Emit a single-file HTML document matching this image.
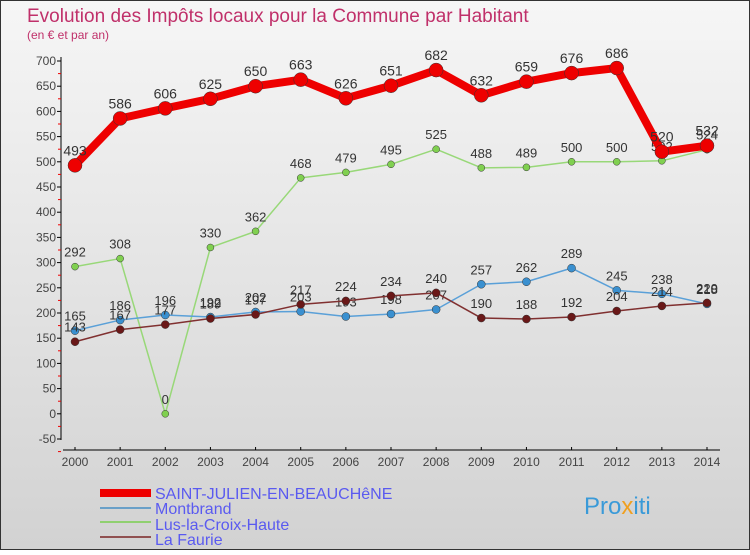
<!DOCTYPE html>
<html><head><meta charset="utf-8"><style>
body{margin:0;width:750px;height:550px;overflow:hidden;font-family:"Liberation Sans",sans-serif}
</style></head><body>
<svg id="c" width="750" height="550" xmlns="http://www.w3.org/2000/svg">
<defs><linearGradient id="bg" x1="0" y1="0" x2="0" y2="1"><stop offset="0" stop-color="#f6f6f6"/><stop offset="1" stop-color="#d2d2d2"/></linearGradient></defs>
<rect x="0.5" y="0.5" width="749" height="549" fill="url(#bg)" stroke="#333"/>
<text x="27" y="22" font-size="19" fill="#c0306a">Evolution des Impôts locaux pour la Commune par Habitant</text>
<text x="27" y="39" font-size="12" fill="#c0306a">(en € et par an)</text>
<g id="axes"></g><g id="series"></g>
<g font-size="16" fill="#5a5af0">
<rect x="100" y="489" width="51" height="8" fill="#e00"/>
<text x="155" y="499">SAINT-JULIEN-EN-BEAUCHêNE</text>
<rect x="100" y="507" width="51" height="2" fill="#6aa0c8"/>
<text x="155" y="514">Montbrand</text>
<rect x="100" y="521" width="51" height="2" fill="#90d070"/>
<text x="155" y="530">Lus-la-Croix-Haute</text>
<rect x="100" y="536" width="51" height="2" fill="#905050"/>
<text x="155" y="545">La Faurie</text>
</g>
<text x="584" y="514" font-size="24" fill="#3a9ad8">Pro<tspan fill="#f0a020">x</tspan>iti</text>
</svg>
<script>
const years=[2000,2001,2002,2003,2004,2005,2006,2007,2008,2009,2010,2011,2012,2013,2014];
const yTicks=[-50,0,50,100,150,200,250,300,350,400,450,500,550,600,650,700];
const saintJulien=[493,586,606,625,650,663,626,651,682,632,659,676,686,520,532];
const montbrand=[165,186,196,192,202,203,193,198,207,257,262,289,245,238,218];
const lus=[292,308,0,330,362,468,479,495,525,488,489,500,500,502,524];
const laFaurie=[143,167,177,189,197,217,224,234,240,190,188,192,204,214,220];
const NS="http://www.w3.org/2000/svg";
const xs=i=>75+i*(707-75)/(years.length-1);
const ys=v=>413.8-v*0.504;
function mk(p,t,a){const e=document.createElementNS(NS,t);for(const k in a)e.setAttribute(k,a[k]);p.appendChild(e);return e;}
const ax=document.getElementById('axes');
let e=mk(ax,'line',{x1:61,y1:57,x2:61,y2:440,stroke:'#000'});

e=mk(ax,'line',{x1:63,y1:450,x2:720,y2:450,stroke:'#000'});

yTicks.forEach(v=>{const y=ys(v);
 mk(ax,'line',{x1:57,y1:y,x2:61,y2:y,stroke:'#000'});
 mk(ax,'line',{x1:58,y1:y+12.6,x2:61,y2:y+12.6,stroke:'#e00'});
 const t=mk(ax,'text',{x:56,y:y+4,'font-size':12,fill:'#444','text-anchor':'end'});t.textContent=v;
 });
years.forEach((yr,i)=>{const x=xs(i);
 mk(ax,'line',{x1:x,y1:447,x2:x,y2:450,stroke:'#000'});
 const t=mk(ax,'text',{x:x,y:466,'font-size':12,fill:'#444','text-anchor':'middle'});t.textContent=yr;
 });
const sg=document.getElementById('series');
function draw(vals,name,col,w,r,dot,fs){
 const g=mk(sg,'g',{});
 
 mk(g,'polyline',{points:vals.map((v,i)=>xs(i)+','+ys(v)).join(' '),fill:'none',stroke:col,'stroke-width':w,'stroke-linejoin':'round'});
 vals.forEach((v,i)=>{const c=mk(g,'circle',{cx:xs(i),cy:ys(v),r:r,fill:dot,stroke:'#333','stroke-width':0.5});
  
  const t=mk(g,'text',{x:xs(i),y:ys(v)-10,'font-size':fs,fill:'#333','text-anchor':'middle'});t.textContent=v;
  });
}
draw(lus,'lus','#98d878',1.5,3.5,'#80d050',13);
draw(montbrand,'montbrand','#5aa0d8',1.5,4,'#3a90d0',13);
draw(laFaurie,'la-faurie','#803030',1.5,4,'#6a1818',13);
draw(saintJulien,'saint-julien','#e00',8,7,'#e00',14);
</script>
</body></html>
